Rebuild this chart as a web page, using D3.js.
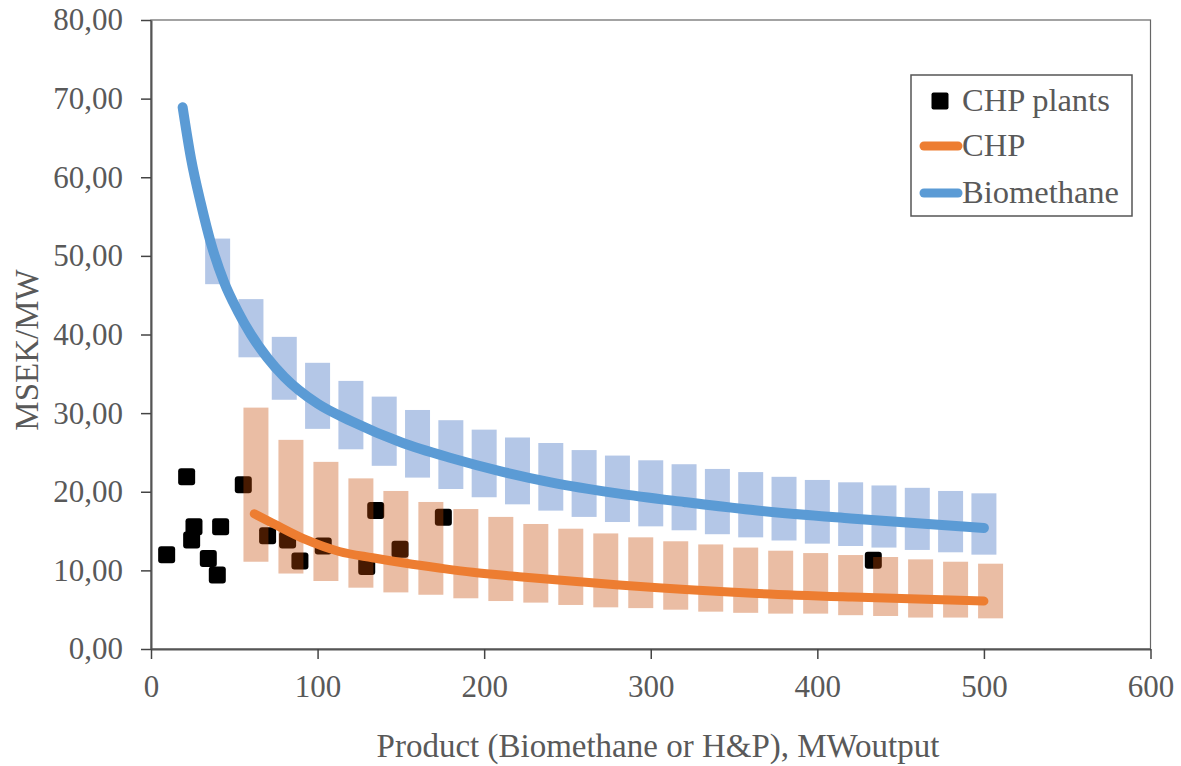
<!DOCTYPE html>
<html>
<head>
<meta charset="utf-8">
<script src="https://cdn.jsdelivr.net/npm/d3@7"></script>
<style>
  body { margin: 0; background: #fff; }
  svg { display: block; font-family: "Liberation Serif", "Times New Roman", serif; }
</style>
</head>
<body>
<svg></svg>
<script>
// tick labels
const xTicks = [0, 100, 200, 300, 400, 500, 600];
const yTicks = [0, 10, 20, 30, 40, 50, 60, 70, 80];

// Biomethane range bars
const bioBarX  = [40, 60, 80, 100, 120, 140, 160, 180, 200, 220, 240, 260, 280, 300, 320, 340, 360, 380, 400, 420, 440, 460, 480, 500];
const bioBarHi = [52.2, 44.5, 39.7, 36.4, 34.1, 32.1, 30.4, 29.1, 27.9, 26.9, 26.2, 25.3, 24.6, 24.0, 23.5, 22.9, 22.5, 21.9, 21.5, 21.2, 20.8, 20.5, 20.1, 19.8];
const bioBarLo = [46.4, 37.1, 31.7, 28.0, 25.4, 23.3, 21.8, 20.35, 19.3, 18.4, 17.6, 16.8, 16.15, 15.6, 15.1, 14.6, 14.2, 13.8, 13.4, 13.1, 12.9, 12.6, 12.3, 12.0];

// CHP range bars
const chpBarX  = [63, 84, 105, 126, 147, 168, 189, 210, 231, 252, 273, 294, 315, 336, 357, 378, 399, 420, 441, 462, 483, 504];
const chpBarHi = [30.7, 26.6, 23.8, 21.7, 20.1, 18.7, 17.8, 16.8, 15.9, 15.3, 14.7, 14.2, 13.7, 13.3, 12.9, 12.5, 12.2, 11.95, 11.7, 11.4, 11.1, 10.85];
const chpBarLo = [11.1, 9.6, 8.65, 7.8, 7.2, 6.9, 6.45, 6.1, 5.9, 5.6, 5.3, 5.2, 5.0, 4.75, 4.6, 4.5, 4.5, 4.3, 4.2, 4.0, 4.0, 3.9];

// Biomethane curve
const bioX = [19, 24, 30, 36, 44, 52, 60, 70, 80, 100, 120, 150, 180, 210, 240, 280, 320, 360, 420, 500];
const bioY = [68.9, 62.4, 56.6, 51.6, 46.6, 43.0, 40.0, 37.0, 34.6, 31.2, 29.0, 26.3, 24.3, 22.6, 21.2, 19.8, 18.7, 17.7, 16.6, 15.4];

// CHP curve
const chpX = [62, 73, 93, 113, 133, 153, 173, 193, 221, 281, 361, 421, 500];
const chpY = [17.2, 16.0, 13.9, 12.4, 11.6, 10.9, 10.3, 9.75, 9.2, 8.15, 7.1, 6.6, 6.1];

// CHP plants
const plantX = [9.4, 21.4, 25.8, 24.4, 34.4, 39.8, 41.8, 55.4, 70, 82, 89.4, 103.4, 129.5, 134.9, 149.5, 175.5, 433.6];
const plantY = [12.0, 21.9, 15.55, 13.86, 11.5, 9.4, 15.55, 20.9, 14.4, 13.86, 11.2, 13.1, 10.5, 17.6, 12.7, 16.75, 11.3];

const width = 1181, height = 766;
const plot = { left: 151, right: 1150.5, top: 20, bottom: 649 };
const textColor = "#595959";

const svg = d3.select("svg").attr("width", width).attr("height", height);

const x = d3.scaleLinear().domain([0, 600]).range([plot.left, plot.right]);
const y = d3.scaleLinear().domain([0, 80]).range([plot.bottom, plot.top]);

const comma = d => d3.format(".2f")(d).replace(".", ",");

// plot frame
svg.append("rect")
    .attr("x", plot.left).attr("y", plot.top)
    .attr("width", plot.right - plot.left).attr("height", plot.bottom - plot.top)
    .attr("fill", "none").attr("stroke", "#666").attr("stroke-width", 1.2);

// axes
const yAxis = svg.append("g")
    .attr("transform", "translate(" + plot.left + ",0)")
    .call(d3.axisLeft(y).tickValues(yTicks).tickFormat(comma).tickSize(10).tickSizeOuter(0).tickPadding(18));
const xAxis = svg.append("g")
    .attr("transform", "translate(0," + plot.bottom + ")")
    .call(d3.axisBottom(x).tickValues(xTicks).tickSize(10).tickSizeOuter(0).tickPadding(16));

[xAxis, yAxis].forEach(g => {
    g.select(".domain").attr("stroke", "#555").attr("stroke-width", 2);
    g.selectAll(".tick line").attr("stroke", "#444").attr("stroke-width", 1.5);
    g.selectAll("text")
        .attr("fill", textColor)
        .style("font-family", "'Liberation Serif', serif")
        .style("font-size", "31px");
});

// CHP plant markers (drawn first, bars tint them)
const sq = 17;
svg.append("g").selectAll("rect")
    .data(plantX.map((d, i) => [d, plantY[i]]))
    .enter().append("rect")
    .attr("x", d => x(d[0]) - sq / 2)
    .attr("y", d => y(d[1]) - sq / 2)
    .attr("width", sq).attr("height", sq)
    .attr("rx", 3)
    .attr("fill", "#000");

const barW = x(15) - x(0);

// Biomethane range bars
svg.append("g").selectAll("rect")
    .data(bioBarX.map((d, i) => ({ x: d, hi: bioBarHi[i], lo: bioBarLo[i] })))
    .enter().append("rect")
    .attr("x", d => x(d.x) - barW / 2)
    .attr("y", d => y(d.hi))
    .attr("width", barW)
    .attr("height", d => y(d.lo) - y(d.hi))
    .attr("fill", "#b4c7e7");

// CHP range bars (semi transparent)
svg.append("g").selectAll("rect")
    .data(chpBarX.map((d, i) => ({ x: d, hi: chpBarHi[i], lo: chpBarLo[i] })))
    .enter().append("rect")
    .attr("x", d => x(d.x) - barW / 2)
    .attr("y", d => y(d.hi))
    .attr("width", barW)
    .attr("height", d => y(d.lo) - y(d.hi))
    .attr("fill", "rgb(196,72,4)")
    .attr("fill-opacity", 0.36);

// curves
const line = d3.line().x(d => x(d[0])).y(d => y(d[1])).curve(d3.curveMonotoneX);

svg.append("path")
    .datum(chpX.map((d, i) => [d, chpY[i]]))
    .attr("d", line)
    .attr("fill", "none").attr("stroke", "#ed7d31")
    .attr("stroke-width", 9).attr("stroke-linecap", "round");

svg.append("path")
    .datum(bioX.map((d, i) => [d, bioY[i]]))
    .attr("d", line)
    .attr("fill", "none").attr("stroke", "#5b9bd5")
    .attr("stroke-width", 10).attr("stroke-linecap", "round");

// axis titles
svg.append("text")
    .attr("x", 658)
    .attr("y", 757)
    .attr("text-anchor", "middle")
    .attr("fill", textColor)
    .style("font-size", "33px")
    .text("Product (Biomethane or H&P), MWoutput");

svg.append("text")
    .attr("transform", "translate(38," + 350 + ") rotate(-90)")
    .attr("text-anchor", "middle")
    .attr("fill", textColor)
    .style("font-size", "33px")
    .text("MSEK/MW");

// legend
const legend = svg.append("g");
legend.append("rect")
    .attr("x", 911).attr("y", 75).attr("width", 221).attr("height", 141)
    .attr("fill", "#fff").attr("stroke", "#555").attr("stroke-width", 1.5);

const legendItems = [
    { label: "CHP plants", type: "square", color: "#000", cy: 101 },
    { label: "CHP", type: "line", color: "#ed7d31", cy: 146 },
    { label: "Biomethane", type: "line", color: "#5b9bd5", cy: 193 }
];

legendItems.forEach(item => {
    if (item.type === "square") {
        legend.append("rect")
            .attr("x", 940 - 8.5).attr("y", item.cy - 8.5)
            .attr("width", 17).attr("height", 17).attr("rx", 2)
            .attr("fill", item.color);
    } else {
        legend.append("line")
            .attr("x1", 924).attr("x2", 958)
            .attr("y1", item.cy).attr("y2", item.cy)
            .attr("stroke", item.color).attr("stroke-width", 9)
            .attr("stroke-linecap", "round");
    }
    legend.append("text")
        .attr("x", 962).attr("y", item.cy + 10)
        .attr("fill", textColor)
        .style("font-size", "32.5px")
        .text(item.label);
});
</script>
</body>
</html>
